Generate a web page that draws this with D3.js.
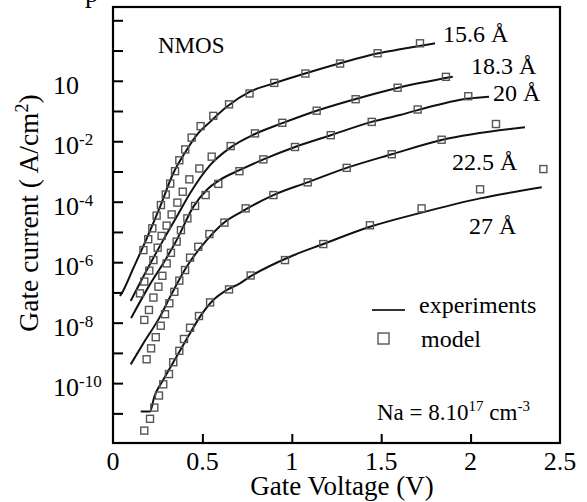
<!DOCTYPE html>
<html>
<head>
<meta charset="utf-8">
<script src="https://cdn.jsdelivr.net/npm/d3@7"></script>
<style>
  body { margin: 0; background: #fff; }
  svg text { font-family: "Liberation Serif", "Times New Roman", serif; fill: #000; }
</style>
</head>
<body>
<svg id="chart" width="587" height="502"></svg>
<script>
// values are [gate voltage (V), log10 of gate current]
const exp156 = [[0.039,-7.12],[0.056,-6.95],[0.112,-6.22],[0.188,-5.22],[0.263,-4.17],[0.337,-3.06],[0.412,-2.29],[0.468,-1.80],[0.543,-1.36],[0.636,-0.86],[0.766,-0.36],[0.897,-0.09],[1.074,0.24],[1.270,0.58],[1.484,0.91],[1.605,1.04],[1.801,1.24]];
const exp183 = [[0.099,-7.28],[0.19,-6.25],[0.281,-5.27],[0.356,-4.50],[0.431,-3.72],[0.543,-2.79],[0.654,-2.22],[0.794,-1.76],[0.943,-1.41],[1.139,-0.99],[1.353,-0.61],[1.596,-0.23],[1.900,0.13]];
const exp20 = [[0.101,-7.85],[0.20,-6.80],[0.30,-5.85],[0.356,-5.27],[0.449,-4.17],[0.524,-3.61],[0.598,-3.28],[0.710,-2.95],[0.841,-2.60],[1.018,-2.19],[1.218,-1.80],[1.447,-1.36],[1.605,-1.13],[1.704,-0.97],[1.99,-0.59],[2.103,-0.53]];
const exp225 = [[0.099,-9.38],[0.170,-8.68],[0.263,-7.80],[0.320,-7.14],[0.412,-6.15],[0.524,-5.27],[0.617,-4.71],[0.72,-4.33],[0.897,-3.78],[1.083,-3.37],[1.307,-2.88],[1.559,-2.43],[1.838,-1.96],[2.304,-1.54]];
const exp27 = [[0.155,-10.94],[0.207,-10.94],[0.231,-10.45],[0.281,-9.89],[0.356,-9.12],[0.431,-8.35],[0.487,-7.80],[0.561,-7.25],[0.636,-6.92],[0.710,-6.70],[0.766,-6.48],[0.990,-5.82],[1.176,-5.40],[1.437,-4.83],[1.726,-4.36],[2.053,-3.89],[2.398,-3.52]];

const mod156 = [[0.170,-5.60],[0.197,-5.24],[0.220,-4.88],[0.244,-4.46],[0.268,-4.11],[0.295,-3.76],[0.320,-3.40],[0.347,-2.99],[0.371,-2.63],[0.404,-2.27],[0.440,-1.88],[0.490,-1.50],[0.561,-1.16],[0.649,-0.78],[0.764,-0.42],[0.902,-0.07],[1.076,0.24],[1.270,0.57],[1.480,0.91],[1.717,1.24]];
const mod183 = [[0.151,-7.03],[0.175,-6.64],[0.203,-6.28],[0.226,-5.93],[0.250,-5.52],[0.272,-5.13],[0.300,-4.79],[0.328,-4.42],[0.360,-4.03],[0.390,-3.67],[0.427,-3.26],[0.483,-2.90],[0.552,-2.51],[0.658,-2.16],[0.794,-1.74],[0.947,-1.39],[1.139,-0.99],[1.357,-0.61],[1.592,-0.23],[1.862,0.13]];
const mod20 = [[0.175,-7.91],[0.201,-7.58],[0.226,-7.17],[0.254,-6.81],[0.276,-6.45],[0.300,-6.04],[0.324,-5.69],[0.356,-5.32],[0.380,-4.94],[0.416,-4.55],[0.459,-4.14],[0.518,-3.78],[0.589,-3.41],[0.707,-2.99],[0.841,-2.60],[1.018,-2.19],[1.218,-1.80],[1.447,-1.36],[1.704,-0.95],[1.987,-0.51]];
const mod225 = [[0.188,-9.21],[0.213,-8.85],[0.239,-8.48],[0.267,-8.10],[0.291,-7.72],[0.315,-7.36],[0.343,-6.98],[0.371,-6.61],[0.403,-6.26],[0.431,-5.85],[0.477,-5.49],[0.539,-5.07],[0.623,-4.69],[0.742,-4.22],[0.897,-3.78],[1.089,-3.36],[1.307,-2.88],[1.559,-2.43],[1.838,-1.95],[2.142,-1.43]];
const mod27 = [[0.175,-11.57],[0.207,-11.18],[0.231,-10.81],[0.257,-10.41],[0.281,-10.04],[0.313,-9.70],[0.337,-9.31],[0.371,-8.93],[0.397,-8.54],[0.431,-8.17],[0.481,-7.78],[0.543,-7.33],[0.649,-6.90],[0.770,-6.44],[0.962,-5.93],[1.176,-5.40],[1.437,-4.78],[1.726,-4.22],[2.053,-3.59],[2.407,-2.92]];

const thicknessLabels = ["15.6 Å", "18.3 Å", "20 Å", "22.5 Å", "27 Å"];
const xTicks = [0, 0.5, 1, 1.5, 2, 2.5];
const yTickExps = [0, -2, -4, -6, -8, -10];
const yTickSup = ["", "-2", "-4", "-6", "-8", "-10"];   // the top one is printed just "10"
const yMinorExps = d3.range(-11, 3);

const experiments = [exp156, exp183, exp20, exp225, exp27];
const models = [mod156, mod183, mod20, mod225, mod27];

const svg = d3.select("#chart");
const plot = { left: 113, top: 7, right: 560, bottom: 443 };

const x = d3.scaleLinear().domain([0, 2.5]).range([plot.left, plot.right]);
const y = d3.scaleLog().domain([Math.pow(10, -11.98), Math.pow(10, 2.44)]).range([plot.bottom, plot.top]);

const pt = d => [x(d[0]), y(Math.pow(10, d[1]))];

// cut-off caption letter above the figure
svg.append("text").attr("x", 85).attr("y", 2).style("font-size", "27px").text("p");

// inward ticks
const yAxis = d3.axisRight(y).tickValues(yMinorExps.map(e => Math.pow(10, e))).tickSize(10).tickFormat("");
svg.append("g").attr("transform", `translate(${plot.left},0)`).call(yAxis)
  .call(g => g.select(".domain").remove())
  .selectAll("line").attr("stroke", "#000").attr("stroke-width", 2);

const xAxis = d3.axisTop(x).tickValues([0.5, 1, 1.5, 2]).tickSize(9).tickFormat("");
svg.append("g").attr("transform", `translate(0,${plot.bottom})`).call(xAxis)
  .call(g => g.select(".domain").remove())
  .selectAll("line").attr("stroke", "#000").attr("stroke-width", 2);

// frame
svg.append("rect")
  .attr("x", plot.left).attr("y", plot.top)
  .attr("width", plot.right - plot.left).attr("height", plot.bottom - plot.top)
  .attr("fill", "none").attr("stroke", "#000").attr("stroke-width", 2.2);

// tick labels
svg.selectAll(".xlab").data(xTicks).enter().append("text")
  .attr("x", d => x(d)).attr("y", 470)
  .attr("text-anchor", "middle").style("font-size", "26px")
  .text(d => d);

const yl = svg.selectAll(".ylab").data(yTickExps).enter().append("text")
  .attr("x", 53).attr("y", d => y(Math.pow(10, d)) + 13)
  .style("font-size", "26px");
yl.append("tspan").text("10");
yl.append("tspan").attr("dy", -9).style("font-size", "17px").text((d, i) => yTickSup[i]);

// axis titles
svg.append("text").attr("x", 342).attr("y", 495).attr("text-anchor", "middle")
  .style("font-size", "27px").text("Gate Voltage (V)");

const yt = svg.append("text")
  .attr("transform", "translate(38,213) rotate(-90)")
  .attr("text-anchor", "middle").style("font-size", "27.5px");
yt.append("tspan").text("Gate current ( A/cm");
yt.append("tspan").attr("dy", -10).style("font-size", "18px").text("2");
yt.append("tspan").attr("dy", 10).text(")");

// curves
const line = d3.line().x(d => pt(d)[0]).y(d => pt(d)[1]).curve(d3.curveMonotoneX);
svg.selectAll(".exp").data(experiments).enter().append("path")
  .attr("d", line).attr("fill", "none").attr("stroke", "#111").attr("stroke-width", 2);

const sq = 7;
models.forEach(m => {
  svg.selectAll(null).data(m).enter().append("rect")
    .attr("x", d => pt(d)[0] - sq / 2).attr("y", d => pt(d)[1] - sq / 2)
    .attr("width", sq).attr("height", sq)
    .attr("fill", "none").attr("stroke", "#555").attr("stroke-width", 1.4);
});

// thickness labels
const labelPos = [[443, 42], [471, 74], [493, 101], [452, 170], [469, 234]];
svg.selectAll(".tl").data(thicknessLabels).enter().append("text")
  .attr("x", (d, i) => labelPos[i][0]).attr("y", (d, i) => labelPos[i][1])
  .style("font-size", "24px").text(d => d);

svg.append("text").attr("x", 158).attr("y", 53).style("font-size", "23px").text("NMOS");

// legend
svg.append("line").attr("x1", 372).attr("x2", 405).attr("y1", 310).attr("y2", 310)
  .attr("stroke", "#333").attr("stroke-width", 2);
svg.append("text").attr("x", 419).attr("y", 313).style("font-size", "24px").text("experiments");
svg.append("rect").attr("x", 378).attr("y", 333).attr("width", 11).attr("height", 11)
  .attr("fill", "none").attr("stroke", "#555").attr("stroke-width", 1.4);
svg.append("text").attr("x", 421).attr("y", 347).style("font-size", "24px").text("model");

const na = svg.append("text").attr("x", 377).attr("y", 420).style("font-size", "23px");
na.append("tspan").text("Na = 8.10");
na.append("tspan").attr("dy", -9).style("font-size", "15px").text("17");
na.append("tspan").attr("dy", 9).text(" cm");
na.append("tspan").attr("dy", -9).style("font-size", "15px").text("-3");
</script>
</body>
</html>
